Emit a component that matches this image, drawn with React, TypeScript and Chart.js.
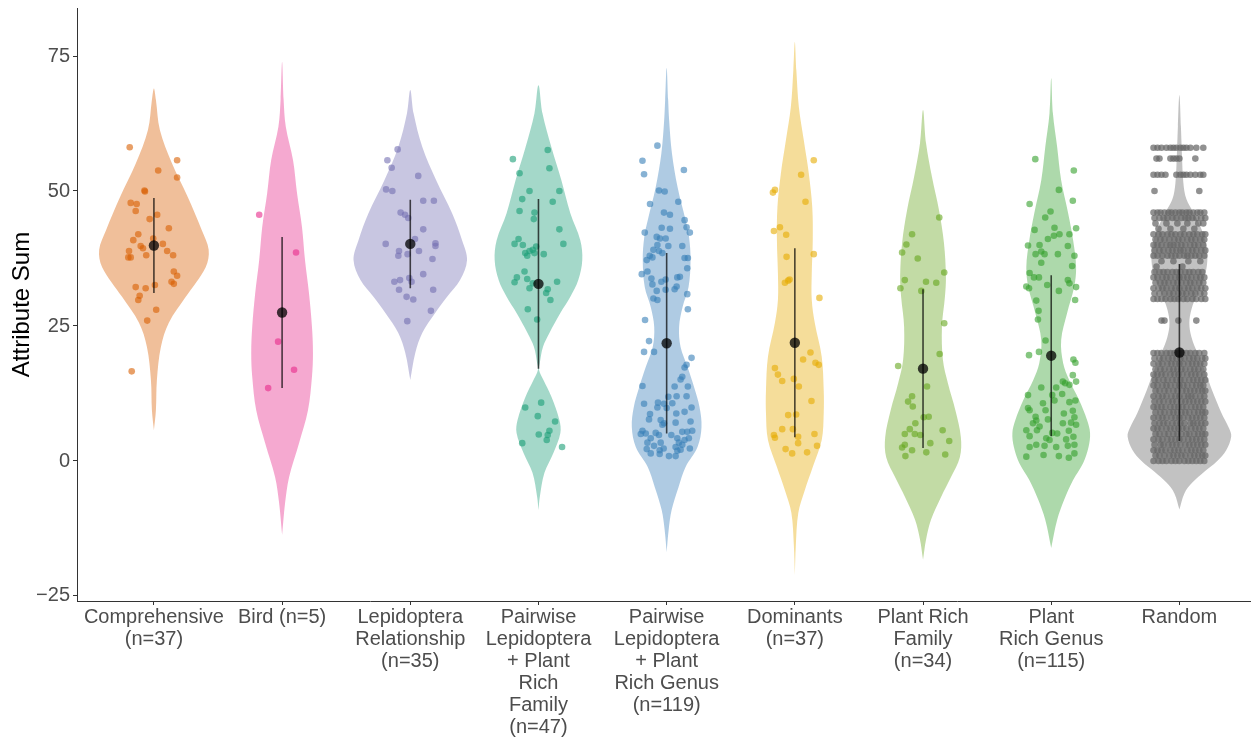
import React, { useEffect, useRef } from 'react';
import { Chart, registerables } from 'chart.js';

Chart.register(...registerables);

// ---------- data ----------
const CATEGORY_LABELS: string[][] = [
  ['Comprehensive', '(n=37)'],
  ['Bird (n=5)'],
  ['Lepidoptera', 'Relationship', '(n=35)'],
  ['Pairwise', 'Lepidoptera', '+ Plant', 'Rich', 'Family', '(n=47)'],
  ['Pairwise', 'Lepidoptera', '+ Plant', 'Rich Genus', '(n=119)'],
  ['Dominants', '(n=37)'],
  ['Plant Rich', 'Family', '(n=34)'],
  ['Plant', 'Rich Genus', '(n=115)'],
  ['Random'],
];

const BASE_COLORS = ['#D95F02', '#E7298A', '#7570B3', '#1B9E77', '#377EB8', '#E6AB02', '#66A61E', '#33A02C', '#666666'];
const POINT_ALPHAS = [0.6, 0.6, 0.6, 0.6, 0.6, 0.6, 0.6, 0.6, 0.72];

const MEANS = [39.9, 27.5, 40.2, 32.8, 21.8, 21.9, 17.1, 19.5, 20.1];
const SDS = [8.8, 14.0, 8.2, 15.7, 16.7, 17.5, 14.7, 14.9, 16.4];

const Y_TICKS = [-25, 0, 25, 50, 75];

// violin profiles: [value, half width] (half width in 1/128.75 of a category step)
const COMP_VIOLIN = [[5.7, 0], [9.4, 2], [15, 3], [21.1, 7], [25.6, 15], [30.4, 32], [35.9, 52], [39.1, 55], [42.8, 48], [48.9, 34], [55.2, 18], [61.3, 6], [66.9, 2], [69, 0]];
const BIRD_VIOLIN = [[-13.7, 0], [-7.8, 3], [-3, 7], [3.3, 17], [9.4, 26], [15.6, 30], [20, 31], [24.8, 30], [31.1, 27], [37.2, 23], [43.3, 20], [49.6, 15], [55.7, 11], [61.9, 3.7], [67, 1.5], [73.9, 0]];
const LEPI_VIOLIN = [[15, 0], [20, 5], [23.7, 12], [27.4, 25], [30.4, 37], [33.5, 50], [37.2, 57], [40.9, 52], [45.9, 42], [52, 26], [58.2, 12], [64.4, 3.3], [68.7, 0]];
const PWF_VIOLIN = [[-9.1, 0], [-6.7, 1.3], [-2.2, 6], [1.5, 15], [5.2, 22], [7.6, 21], [11.9, 13], [15, 5], [16.9, 0.5], [18.1, 1.3], [21.1, 4.5], [23.7, 11], [27.4, 22], [30.4, 32], [33.5, 40], [37.2, 44], [40.9, 42], [45.9, 32], [52, 23], [58.1, 13], [64.4, 4], [69.6, 0]];
const PWG_VIOLIN = [[-16.9, 0], [-12.8, 2], [-9.1, 5], [-4.8, 12], [-1.1, 19], [2.6, 31], [6.3, 35], [10, 33], [13.7, 27.5], [17.4, 21], [21.1, 14], [24.8, 12.5], [28.5, 16], [32.2, 22], [37.2, 24], [41.5, 22.5], [44.6, 19], [50.7, 11], [57, 5.3], [63.1, 2.5], [66.9, 1.5], [72.8, 0]];
const DOM_VIOLIN = [[-21.1, 0], [-15.6, 1], [-9.6, 3.5], [-5.4, 10], [-1.1, 18], [3.9, 27], [8.9, 29], [13.1, 29], [19.3, 27], [25.6, 20], [29.8, 17], [34.8, 17], [40.9, 18], [47, 17.5], [53.3, 14], [59.4, 9], [65.6, 4], [72.4, 1.5], [77.6, 0]];
const PRF_VIOLIN = [[-18.3, 0], [-14.6, 3], [-10.9, 8], [-6.7, 18], [-3, 28], [0.7, 37], [4.4, 38], [9.4, 32.5], [14.4, 25], [18.7, 20], [24.8, 19], [30.4, 22], [34.1, 23], [40.4, 21], [46.5, 16], [52.6, 9], [58.9, 3], [65, 0]];
const PRG_VIOLIN = [[-16.1, 0], [-10.9, 6], [-7.2, 13], [-3.5, 22], [-0.4, 32], [2.6, 37.5], [5.2, 39], [7.6, 36], [11.3, 28], [15, 18], [18.1, 12], [22.4, 10], [27.4, 16], [32.2, 23], [35.9, 25], [40.9, 22], [45.9, 17], [52, 10], [58.1, 6], [64.4, 1.7], [70.9, 0]];
const RAND_VIOLIN = [[-9, 0], [-6, 5], [-4, 13], [-2, 25], [0, 38], [2, 47], [4.5, 52], [6, 50], [9, 42], [13, 33], [17, 25], [20, 18], [23, 12], [25.5, 10], [28, 12], [31, 18], [34, 25], [37, 28], [40, 27], [43, 22], [46, 14], [48.5, 7], [51.5, 4], [57, 2.5], [62, 1.5], [67.8, 0]];

// jittered observations: [horizontal jitter (same unit as half width), value]
const COMP_PTS = [[-24.3, 58.1], [23.3, 55.7], [4.3, 53.8], [23.3, 52.5], [-9, 49.9], [-23.3, 47.8], [-17.3, 47.6], [-18.3, 46.3], [-4.3, 44.8], [3.3, 45.6], [15, 43.1], [-15.7, 42], [-20.7, 40.9], [-0.7, 41.2], [-13.3, 39.8], [-11, 39.4], [9, 40.2], [13.3, 38.9], [-25, 38.9], [19.3, 38.1], [-25.7, 37.7], [-23.3, 37.7], [-7.7, 38.1], [20, 35.1], [23.3, 34.3], [17.7, 33.2], [20, 32.8], [-18.3, 32.2], [-8.3, 32], [1, 32.6], [-14.3, 30.6], [-15.7, 29.8], [2.3, 28], [-6.7, 26], [-22.3, 16.6], [-9.5, 50.1]];
const BIRD_PTS = [[-23, 45.6], [14, 38.6], [-4, 22.1], [12, 16.9], [-14, 13.5]];
const LEPI_PTS = [[-12.7, 57.7], [-23, 55.7], [-18.7, 54.3], [8, 52.8], [-24.3, 50.3], [-18, 50], [13, 48.2], [23.7, 48.2], [-9.7, 46], [-5.3, 45.6], [-2, 45], [13, 42.9], [4.7, 41.1], [25.3, 40.3], [25.3, 39.8], [-24.7, 40.2], [8.7, 38.9], [-11.3, 38.9], [-12, 38], [-2.7, 38.3], [22.3, 37.4], [13, 34.6], [-1, 33.9], [-10.3, 33.5], [-16, 33.2], [1.3, 33.2], [-11.3, 31.7], [23, 31.7], [-3.7, 30.4], [3, 29.9], [20.7, 27.8], [-3, 25.9]];
const PWF_PTS = [[9.3, 57.6], [-25.7, 55.9], [11, 54.2], [-19, 53.3], [-9, 50], [21, 50], [-16.3, 48.5], [14.3, 48], [-19, 46.3], [-4, 46], [-4.7, 44.8], [21, 42.9], [-20, 41.1], [-24, 40.2], [25, 40.2], [-15.7, 40], [-2.3, 39.7], [-9, 38.9], [-5.7, 39.1], [-13.3, 38.5], [-11.3, 38], [-4, 38.5], [5.3, 38.3], [-14, 35.1], [-21.7, 34], [-11.3, 33.7], [-24, 33.1], [-9, 32], [-5.7, 32.9], [18.7, 33.2], [9.3, 31.8], [7.7, 31.1], [12, 29.8], [-10.7, 28.1], [-1.3, 26.2], [2.7, 10.8], [-13.3, 9.9], [-0.7, 8.3], [16.7, 7.3], [11, 5.6], [0.3, 4.9], [9.3, 4.8], [8.3, 3.9], [-16.3, 3.3], [23.7, 2.6]];
const PWG_PTS = [[-9.3, 58.4], [-24.3, 55.6], [17.3, 53.9], [-22.7, 53.1], [-7.7, 50.1], [-2, 49.9], [11.7, 48], [-16.7, 47.6], [-2.7, 46], [3.3, 45.6], [18, 44.6], [20, 43.3], [-5, 43.2], [3.3, 43], [-22, 42.3], [23.3, 42.3], [-10, 41.5], [-6.7, 41.2], [-1, 41.2], [-9.3, 40], [1.7, 39.8], [15.7, 39.8], [-13.3, 39.1], [-7.7, 38.9], [-4.3, 38.5], [-17, 38], [-20, 37.2], [18, 37.6], [21.3, 37.6], [-14.3, 37.7], [-19.3, 35.1], [-25, 34.6], [20.7, 35.7], [-15.3, 33.8], [10.7, 34], [13.3, 34.1], [-5.3, 33.2], [-1, 33.6], [-14.3, 32.7], [10, 32.3], [8, 31.8], [-1, 31.7], [-10, 31.5], [-13.3, 30.1], [-9.3, 29.8], [20.7, 30.9], [21.3, 28.1], [-21.7, 26.1], [-17.7, 22.2], [-22.7, 20.2], [-12.7, 20.2], [25, 19.1], [20, 17.8], [18, 17.3], [15.7, 15.6], [14, 15.1], [-24.3, 13.9], [8, 13.8], [21.3, 13.8], [1.7, 11.9], [10, 12], [20, 12], [-22.7, 10.6], [-8.7, 10.8], [-2.7, 10.6], [5.7, 10.7], [-9.3, 9.9], [0, 9.8], [25, 9.9], [9.7, 8.8], [18, 9.1], [-16.7, 8.7], [-17.7, 7.7], [-6, 7.6], [-2.7, 7], [-4.3, 6.7], [9, 7.1], [24, 7.3], [-24.3, 5.6], [-21, 5.1], [-11, 5.2], [-7.7, 4.8], [4.7, 4.8], [15.7, 5.4], [20.7, 5.4], [25.7, 5.6], [-26, 5], [-16, 4.2], [10.7, 4.2], [18, 3.9], [-19.3, 3.4], [-6, 3.4], [12.3, 3.4], [22.3, 4.2], [-12.7, 2.8], [9, 2.6], [15.7, 3], [-20, 2.2], [-7, 2], [-3, 2.3], [10.7, 1.9], [23.3, 2.3], [-7, 1.3], [2.3, 0.9], [9, 0.9], [-16, 1.4], [14, 2.1]];
const DOM_PTS = [[19, 55.7], [6.3, 53], [-22, 49.7], [-20, 50.2], [10.7, 48], [-21, 42.6], [-15, 43.3], [-8.7, 41.9], [-8.3, 37.8], [19, 38.3], [-10, 33], [-6.7, 33.4], [-5.3, 33.6], [24.7, 30.2], [15.7, 20.1], [8.3, 18.8], [20.7, 18.2], [24, 17.8], [-20, 17.2], [-17, 16], [-12.7, 14.8], [-1, 15.2], [4, 13.8], [16.7, 11.1], [-6.7, 8.5], [1.3, 8.6], [-12.7, 5.9], [-2, 5.9], [-21, 4.8], [-20, 4.3], [3.3, 4.5], [19.7, 5], [22.3, 2.8], [3.3, 3.3], [-9.3, 2.2], [-2.7, 1.4], [12.3, 1.6]];
const PRF_PTS = [[16.3, 45.1], [-11, 42], [-16.7, 40.1], [-21, 38.6], [-5.3, 37.5], [21.3, 34.9], [-18.3, 33.5], [-22.7, 32], [3, 33.2], [13.3, 33], [-1.7, 31.5], [21.3, 25.5], [16.7, 19.8], [-25, 17.6], [4, 13.8], [-11, 12], [-15, 11], [-10.3, 10.1], [0.7, 8.1], [5.7, 8.2], [-7.7, 7], [-13.3, 5.9], [19.7, 5.7], [-18.3, 5], [-8.3, 5], [-2.7, 4.8], [26.3, 3.7], [-18.3, 3], [-21, 2.5], [-11, 2], [7.3, 3.3], [3.3, 1.6], [22.3, 1.2], [-17.7, 0.9]];
const PRG_PTS = [[-16, 55.9], [22.7, 53.8], [7.7, 50.2], [-21.7, 47.6], [21.7, 48.2], [-0.7, 46.2], [-6, 45.1], [-16.7, 42.8], [25, 43.1], [3.3, 43.2], [-3.3, 41.1], [2.7, 41.7], [8.3, 42], [18.3, 42], [-23.3, 39.9], [-11.7, 40], [16.7, 39.8], [-15.7, 38.3], [-10, 38.8], [-6.7, 38.3], [6.7, 38.3], [23.3, 38], [-10, 36.7], [21, 36.1], [-21.7, 34.8], [-17.3, 34], [-12.3, 34], [16.7, 33.5], [18.3, 32.9], [25, 32.2], [-25, 32.3], [-22.3, 32], [-4, 32.6], [7.7, 31.5], [24, 29.8], [-15, 29.7], [-12.7, 27.8], [-13.3, 26.2], [-5.7, 22.3], [-22.3, 19.6], [-12.3, 20.2], [22.3, 18.8], [24.3, 18.2], [21.7, 15.9], [25, 14.7], [11.7, 14.7], [14, 14.4], [-10, 13.6], [5, 13.6], [18.3, 14.1], [1, 12.2], [-23.3, 12.2], [11, 12.4], [-8.3, 10.7], [3.3, 11.2], [18.3, 10.9], [24.3, 11.2], [-23.3, 9.8], [-21.7, 9.4], [-5.7, 9.4], [12.7, 8.8], [21.7, 9.3], [-15.7, 8.2], [23.3, 8.1], [-3.3, 7.7], [-15, 7.5], [-18.3, 7], [11.7, 7], [20, 7.1], [-11.7, 6.4], [25, 6.7], [-25, 5.7], [-14.3, 5.7], [1, 5.2], [6, 5.1], [17.7, 5.6], [-21.7, 4.6], [-5, 4.2], [-1.7, 3.9], [15, 4], [22.3, 4.5], [-21.7, 2.6], [-15, 3], [-6.7, 2.8], [5, 2.6], [16.7, 2.8], [23.3, 3], [-7.7, 1.1], [-25, 0.8], [7.7, 0.9], [17.7, 0.6], [23.3, 1.4]];

// Random group: each row is [value, horizontal jitters]
const RAND_ROWS: [number, number[]][] = [
  [58, [-26, -22, -18, -13, -9, -6, -3, 1, 4, 7, 11, 17, 24]],
  [56, [-23, -20, -9, -6, -3, 0, 16]],
  [53, [-26, -22, -18, -14, -3, 1, 4, 7, 11, 16, 21, 24]],
  [50, [-25, 20]],
  [46, [-26, -22, -19, -15, -11, -8, -4, 0, 3, 7, 10, 14, 18, 21, 25]],
  [45, [-25, -20, -16, -12, -7, -3, 2, 6, 9, 13, 17, 22, 26]],
  [44, [-24, -13, -2, 8, 19, 24]],
  [43, [-21, -9, 4, 15]],
  [42, [-26, -21, -17, -12, -8, -4, 1, 5, 10, 14, 18, 23, 26]],
  [41, [-24, -19, -15, -10, -5, -1, 3, 8, 12, 16, 21, 25]],
  [40, [-26, -22, -18, -13, -9, -6, -2, 2, 6, 11, 15, 19, 24]],
  [39, [-25, -20, -16, -11, -7, -3, 1, 4, 9, 13, 17, 22, 26]],
  [38, [-26, -22, -17, -12, -8, -4, 0, 5, 8, 12, 16, 20, 25]],
  [37, [-18, -6, 9, 21]],
  [36, [-23, 3]],
  [35, [-25, -20, -16, -12, -7, -3, 1, 6, 10, 14, 19, 23]],
  [34, [-26, -22, -17, -13, -9, -4, 0, 4, 8, 12, 17, 21, 25]],
  [33, [-24, -19, -15, -11, -6, -2, 2, 7, 11, 15, 20, 24]],
  [32, [-26, -21, -17, -13, -8, -4, 0, 5, 9, 13, 18, 22, 26]],
  [31, [-25, -20, -15, -10, -6, -1, 3, 7, 12, 16, 21, 25]],
  [30, [-26, -22, -18, -14, -9, -5, -1, 4, 8, 13, 17, 22, 26]],
  [26, [-18, -15, -1, 17]],
  [20, [-26, -22, -18, -13, -9, -5, -1, 3, 7, 11, 16, 20, 25]],
  [19, [-25, -20, -16, -11, -7, -3, 1, 5, 10, 14, 18, 23, 26]],
  [18, [-26, -21, -17, -12, -8, -4, 0, 4, 9, 13, 17, 21, 25]],
  [17, [-24, -19, -15, -10, -6, -2, 2, 6, 11, 15, 19, 24]],
  [16, [-26, -22, -18, -14, -9, -5, -1, 3, 8, 12, 16, 20, 25]],
  [15, [-25, -21, -16, -12, -7, -3, 1, 5, 10, 14, 18, 22, 26]],
  [14, [-26, -22, -17, -13, -9, -4, 0, 4, 8, 13, 17, 21, 24]],
  [13, [-24, -20, -15, -11, -6, -2, 3, 7, 11, 15, 19, 23, 26]],
  [12, [-26, -21, -17, -13, -8, -4, 0, 5, 9, 12, 16, 21, 25]],
  [11, [-25, -20, -16, -11, -7, -3, 2, 6, 10, 14, 18, 22, 26]],
  [10, [-26, -22, -18, -14, -9, -5, -1, 3, 7, 12, 16, 20, 24]],
  [9, [-24, -19, -15, -10, -6, -2, 2, 6, 10, 15, 19, 23, 26]],
  [8, [-26, -21, -17, -13, -8, -4, 0, 4, 9, 13, 17, 21, 25]],
  [7, [-25, -20, -16, -12, -7, -3, 1, 5, 11, 14, 18, 22, 26]],
  [6, [-26, -22, -18, -13, -9, -5, -1, 3, 7, 12, 16, 20, 24]],
  [5, [-24, -20, -15, -11, -6, -2, 2, 7, 10, 15, 19, 23, 26]],
  [4, [-26, -21, -17, -12, -8, -4, 0, 4, 9, 13, 17, 21, 25]],
  [3, [-25, -19, -16, -11, -7, -3, 1, 6, 10, 14, 18, 22, 26]],
  [2, [-26, -22, -18, -14, -9, -5, -1, 3, 8, 12, 16, 20, 24]],
  [1, [-24, -20, -15, -10, -6, -2, 2, 6, 11, 15, 19, 23, 26]],
  [0, [-26, -21, -17, -13, -8, -4, 0, 5, 9, 13, 17, 21, 25]],
];

const VIOLINS = [COMP_VIOLIN, BIRD_VIOLIN, LEPI_VIOLIN, PWF_VIOLIN, PWG_VIOLIN, DOM_VIOLIN, PRF_VIOLIN, PRG_VIOLIN, RAND_VIOLIN];
const RAND_PTS = RAND_ROWS.flatMap(([v, xs]) => xs.map((dx) => [dx, v]));
const POINTS = [COMP_PTS, BIRD_PTS, LEPI_PTS, PWF_PTS, PWG_PTS, DOM_PTS, PRF_PTS, PRG_PTS, RAND_PTS];

// ---------- helpers ----------
const UNIT = 128.75; // jitter / half-width units per category step
const X_MIN = 0.4;
const X_MAX = 9.557;
const Y_MIN = -25.93;
const Y_MAX = 83.89;

function rgba(hex: string, a: number): string {
  const n = parseInt(hex.slice(1), 16);
  return `rgba(${(n >> 16) & 255}, ${(n >> 8) & 255}, ${n & 255}, ${a})`;
}

function buildDatasets(): any[] {
  const ds: any[] = [];
  VIOLINS.forEach((prof, i) => {
    const c = i + 1;
    const left = prof.map(([v, w]) => ({ x: c - w / UNIT, y: v }));
    const right = prof.slice().reverse().map(([v, w]) => ({ x: c + w / UNIT, y: v }));
    ds.push({
      type: 'line',
      data: [...left, ...right.slice(1)],
      fill: 'shape',
      backgroundColor: rgba(BASE_COLORS[i], 0.4),
      borderColor: 'rgba(0,0,0,0)',
      borderWidth: 0,
      pointRadius: 0,
      tension: 0.35,
      order: 4,
    });
  });
  POINTS.forEach((pts, i) => {
    const c = i + 1;
    ds.push({
      type: 'scatter',
      data: pts.map(([dx, v]) => ({ x: c + dx / UNIT, y: v })),
      backgroundColor: rgba(BASE_COLORS[i], POINT_ALPHAS[i]),
      borderWidth: 0,
      pointRadius: 3.3,
      pointHoverRadius: 3.3,
      order: 3,
    });
  });
  MEANS.forEach((m, i) => {
    ds.push({
      type: 'line',
      data: [{ x: i + 1, y: m - SDS[i] }, { x: i + 1, y: m + SDS[i] }],
      borderColor: 'rgba(0,0,0,0.7)',
      borderWidth: 1.6,
      pointRadius: 0,
      fill: false,
      order: 2,
    });
  });
  ds.push({
    type: 'scatter',
    data: MEANS.map((m, i) => ({ x: i + 1, y: m })),
    backgroundColor: 'rgba(0,0,0,0.75)',
    borderWidth: 0,
    pointRadius: 5.2,
    pointHoverRadius: 5.2,
    order: 1,
  });
  return ds;
}

export default function App() {
  const ref = useRef<HTMLCanvasElement>(null);
  useEffect(() => {
    document.body.style.margin = '0';
    const font = '"Liberation Sans", Arial, Helvetica, sans-serif';
    const chart = new Chart(ref.current as HTMLCanvasElement, {
      type: 'scatter',
      data: { datasets: buildDatasets() },
      options: {
        animation: false,
        responsive: false,
        devicePixelRatio: 1,
        events: [],
        layout: { padding: { top: 8, left: 0, right: 0, bottom: 0 } },
        plugins: { legend: { display: false }, tooltip: { enabled: false } },
        scales: {
          x: {
            type: 'linear',
            position: 'bottom',
            min: X_MIN,
            max: X_MAX,
            afterBuildTicks: (s: any) => {
              s.ticks = CATEGORY_LABELS.map((_, i) => ({ value: i + 1 }));
            },
            afterFit: (s: any) => {
              s.height = 137;
              s.paddingLeft = 0;
              s.paddingRight = 0;
            },
            ticks: {
              autoSkip: false,
              maxRotation: 0,
              minRotation: 0,
              padding: 1,
              color: '#4D4D4D',
              font: { family: font, size: 20, lineHeight: 1.1 },
              callback: (v: any) => CATEGORY_LABELS[Math.round(v) - 1] || '',
            },
            grid: { display: true, drawOnChartArea: false, drawTicks: true, tickLength: 4, color: '#333333' },
            border: { display: true, color: '#333333', width: 1 },
          },
          y: {
            type: 'linear',
            min: Y_MIN,
            max: Y_MAX,
            afterBuildTicks: (s: any) => {
              s.ticks = Y_TICKS.map((v) => ({ value: v }));
            },
            afterFit: (s: any) => {
              s.width = 77;
              s.paddingTop = 0;
              s.paddingBottom = 0;
            },
            ticks: {
              padding: 3,
              color: '#4D4D4D',
              font: { family: font, size: 20 },
              callback: (v: any) => (v < 0 ? '\u2212' + Math.abs(v) : String(v)),
            },
            grid: { display: true, drawOnChartArea: false, drawTicks: true, tickLength: 4, color: '#333333' },
            border: { display: true, color: '#333333', width: 1 },
            title: {
              display: true,
              text: 'Attribute Sum',
              color: '#000000',
              font: { family: font, size: 24 },
              padding: { top: 8, bottom: 0 },
            },
          },
        },
      } as any,
    });
    return () => chart.destroy();
  }, []);
  return (
    <div style={{ position: 'absolute', left: 0, top: 0, width: 1256, height: 738, background: '#ffffff' }}>
      <canvas ref={ref} width={1256} height={738} style={{ display: 'block' }} />
    </div>
  );
}
